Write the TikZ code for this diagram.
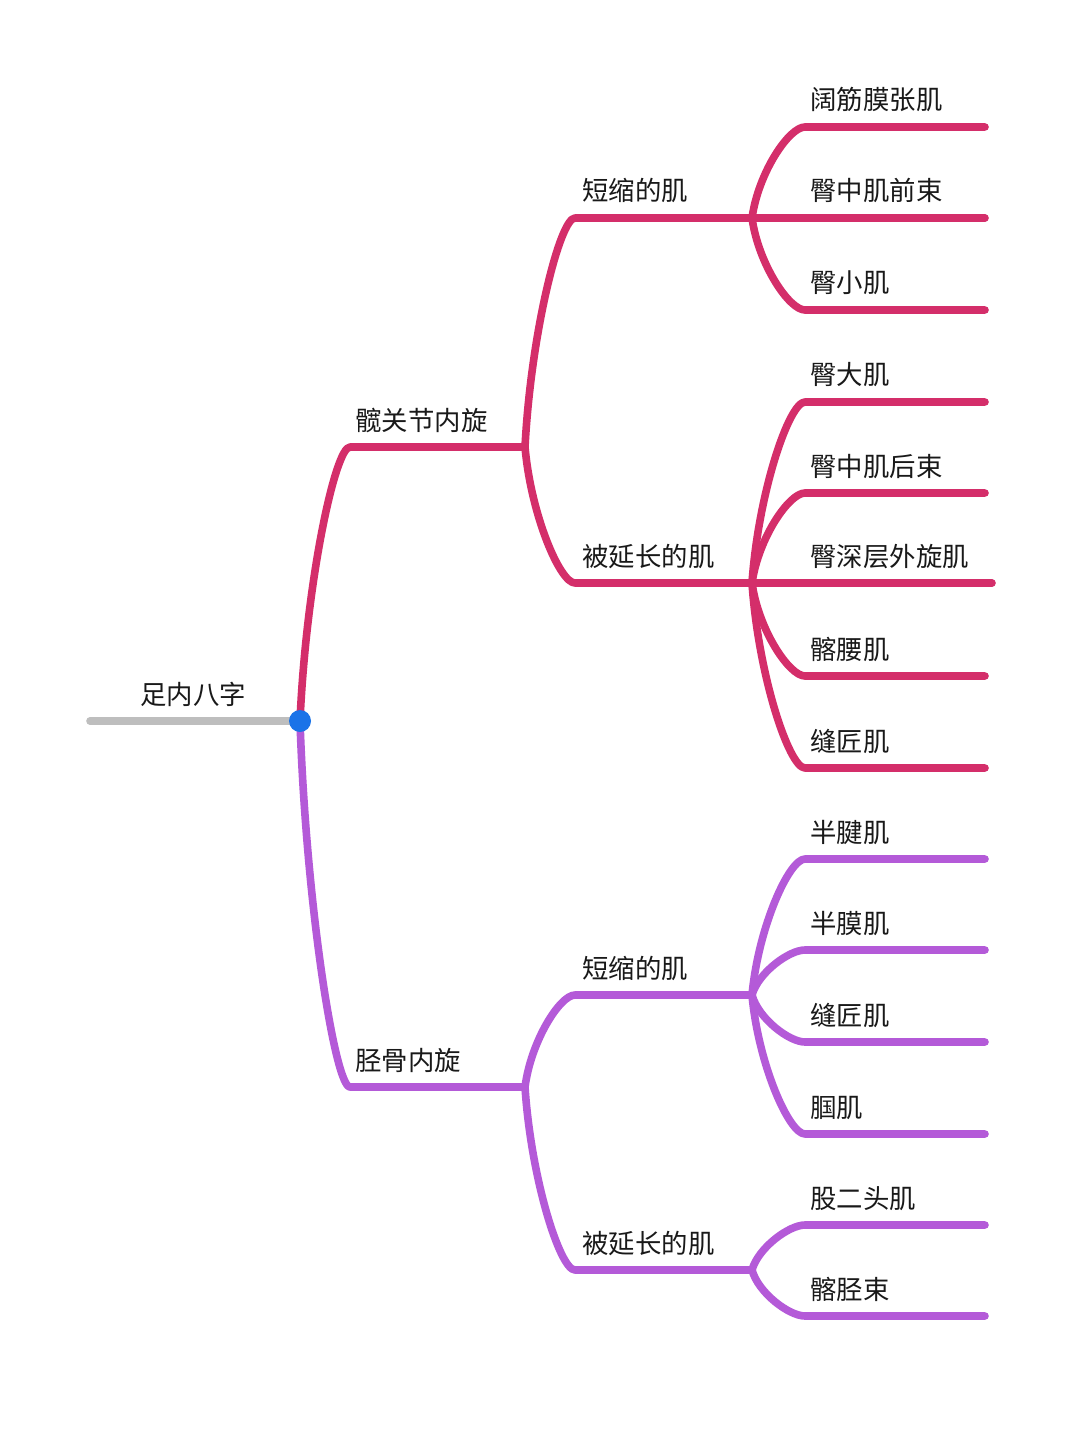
\documentclass[tikz,border=0pt]{standalone}
\usepackage{fontspec}
\newfontfamily\cjk{Noto Sans CJK SC}
\usepackage{tikz}
\usetikzlibrary{calc, positioning}
\definecolor{hipred}{RGB}{212,46,106}
\definecolor{tibviolet}{RGB}{180,90,216}
\definecolor{rootgray}{RGB}{190,190,190}
\definecolor{hubblue}{RGB}{26,115,232}
\tikzset{
  twig/.style={to path={let \p1=(\tikztostart), \p2=(\tikztotarget) in
    .. controls ({\x1+0.12*(\x2-\x1)},{\y1+0.5*(\y2-\y1)}) and ({\x2-0.3*(\x2-\x1)},\y2) .. (\tikztotarget)}},
  branch/.style={line width=3.8pt, line cap=round, line join=round},
  lbl/.style={anchor=base west, inner sep=0pt, text=black!90, font=\cjk\fontsize{13.2pt}{16pt}\selectfont}
}

\begin{document}
\begin{tikzpicture}[x=0.5pt, y=-0.5pt]
\fill[white] (0,0) rectangle (1080,1444);
\useasboundingbox (0,0) rectangle (1080,1444);

% root
\coordinate (rootL) at (90,721);
\coordinate (hub) at (300,721);
\node (root) [lbl] at (140,704) {足内八字};

% first level
\coordinate (hipS) at (350,447);  \coordinate (hipJ) at (525,447);
\coordinate (tibS) at (350,1087); \coordinate (tibJ) at (525,1087);
\node (hip) [lbl] at (355,430) {髋关节内旋};
\node (tib) [lbl] at (355,1070) {胫骨内旋};

% second level
\coordinate (hsS) at (575,218);  \coordinate (hsJ) at (752,218);
\coordinate (hlS) at (575,583);  \coordinate (hlJ) at (752,583);
\coordinate (tsS) at (575,995);  \coordinate (tsJ) at (752,995);
\coordinate (tlS) at (575,1270); \coordinate (tlJ) at (752,1270);
\node (hs) [lbl] at (582,201) {短缩的肌};
\node (hl) [lbl] at (582,566) {被延长的肌};
\node (ts) [lbl] at (582,978) {短缩的肌};
\node (tl) [lbl] at (582,1253) {被延长的肌};

% leaves
\coordinate (l1S) at (805,127);  \coordinate (l1E) at (985,127);
\coordinate (l2S) at (805,218);  \coordinate (l2E) at (985,218);
\coordinate (l3S) at (805,310);  \coordinate (l3E) at (985,310);
\coordinate (l4S) at (805,402);  \coordinate (l4E) at (985,402);
\coordinate (l5S) at (805,493);  \coordinate (l5E) at (985,493);
\coordinate (l6S) at (805,583);  \coordinate (l6E) at (992,583);
\coordinate (l7S) at (805,676);  \coordinate (l7E) at (985,676);
\coordinate (l8S) at (805,768);  \coordinate (l8E) at (985,768);
\coordinate (l9S) at (805,859);  \coordinate (l9E) at (985,859);
\coordinate (l10S) at (805,950); \coordinate (l10E) at (985,950);
\coordinate (l11S) at (805,1042); \coordinate (l11E) at (985,1042);
\coordinate (l12S) at (805,1134); \coordinate (l12E) at (985,1134);
\coordinate (l13S) at (805,1225); \coordinate (l13E) at (985,1225);
\coordinate (l14S) at (805,1316); \coordinate (l14E) at (985,1316);
\node (l1) [lbl] at (810,110) {阔筋膜张肌};
\node (l2) [lbl] at (810,201) {臀中肌前束};
\node (l3) [lbl] at (810,293) {臀小肌};
\node (l4) [lbl] at (810,385) {臀大肌};
\node (l5) [lbl] at (810,476) {臀中肌后束};
\node (l6) [lbl] at (810,566) {臀深层外旋肌};
\node (l7) [lbl] at (810,659) {髂腰肌};
\node (l8) [lbl] at (810,751) {缝匠肌};
\node (l9) [lbl] at (810,842) {半腱肌};
\node (l10) [lbl] at (810,933) {半膜肌};
\node (l11) [lbl] at (810,1025) {缝匠肌};
\node (l12) [lbl] at (810,1117) {腘肌};
\node (l13) [lbl] at (810,1208) {股二头肌};
\node (l14) [lbl] at (810,1299) {髂胫束};

% hip side
\draw[branch, hipred] (hub) to[twig] (hipS) -- (hipJ);
\draw[branch, hipred] (hipJ) to[twig] (hsS) -- (hsJ);
\draw[branch, hipred] (hipJ) to[twig] (hlS) -- (hlJ);
\draw[branch, hipred] (hsJ) to[twig] (l1S) -- (l1E);
\draw[branch, hipred] (hsJ) to[twig] (l2S) -- (l2E);
\draw[branch, hipred] (hsJ) to[twig] (l3S) -- (l3E);
\draw[branch, hipred] (hlJ) to[twig] (l4S) -- (l4E);
\draw[branch, hipred] (hlJ) to[twig] (l5S) -- (l5E);
\draw[branch, hipred] (hlJ) to[twig] (l6S) -- (l6E);
\draw[branch, hipred] (hlJ) to[twig] (l7S) -- (l7E);
\draw[branch, hipred] (hlJ) to[twig] (l8S) -- (l8E);

% tibia side
\draw[branch, tibviolet] (hub) to[twig] (tibS) -- (tibJ);
\draw[branch, tibviolet] (tibJ) to[twig] (tsS) -- (tsJ);
\draw[branch, tibviolet] (tibJ) to[twig] (tlS) -- (tlJ);
\draw[branch, tibviolet] (tsJ) to[twig] (l9S) -- (l9E);
\draw[branch, tibviolet] (tsJ) to[twig] (l10S) -- (l10E);
\draw[branch, tibviolet] (tsJ) to[twig] (l11S) -- (l11E);
\draw[branch, tibviolet] (tsJ) to[twig] (l12S) -- (l12E);
\draw[branch, tibviolet] (tlJ) to[twig] (l13S) -- (l13E);
\draw[branch, tibviolet] (tlJ) to[twig] (l14S) -- (l14E);

\draw[branch, rootgray] (rootL) -- (hub);
\node (hubdot) [circle, fill=hubblue, inner sep=0pt, minimum size=11pt] at (hub) {};
\end{tikzpicture}
\end{document}
